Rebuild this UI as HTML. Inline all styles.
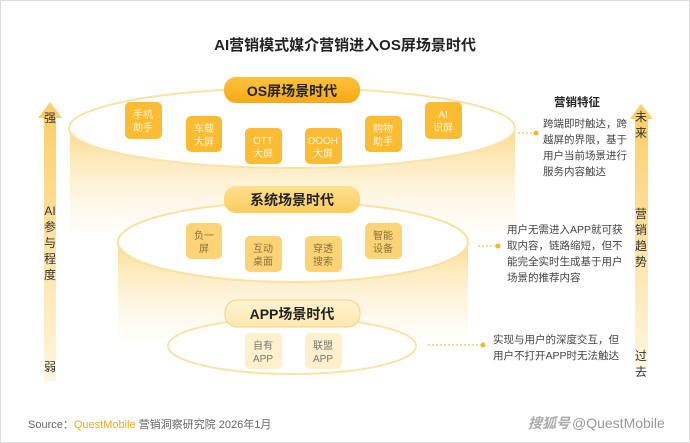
<!DOCTYPE html>
<html><head><meta charset="utf-8"><style>
html,body{margin:0;padding:0;background:#fff;}
svg{display:block;}
text{font-family:"Liberation Sans","Noto Sans CJK SC",sans-serif;}
</style></head><body>
<svg width="690" height="443" viewBox="0 0 690 443" xmlns="http://www.w3.org/2000/svg">
<defs>
<linearGradient id="body1" x1="0" y1="0" x2="0" y2="1"><stop offset="0" stop-color="#fbd98a"/><stop offset="1" stop-color="#fff8e8" stop-opacity="0.3"/></linearGradient>
<linearGradient id="body2" x1="0" y1="0" x2="0" y2="1"><stop offset="0" stop-color="#fcdc8e"/><stop offset="1" stop-color="#fffaf0" stop-opacity="0.3"/></linearGradient>
<linearGradient id="arr" x1="0" y1="0" x2="0" y2="1"><stop offset="0" stop-color="#fbcf6a"/><stop offset="1" stop-color="#fff6e0"/></linearGradient>
<linearGradient id="pill" x1="0" y1="0" x2="0" y2="1"><stop offset="0" stop-color="#fdc23a"/><stop offset="1" stop-color="#f5a915"/></linearGradient>
<linearGradient id="pill2" x1="0" y1="0" x2="0" y2="1"><stop offset="0" stop-color="#ffe08e"/><stop offset="1" stop-color="#f9cd5c"/></linearGradient>
<linearGradient id="pill3" x1="0" y1="0" x2="0" y2="1"><stop offset="0" stop-color="#fff3d0"/><stop offset="1" stop-color="#fde7b0"/></linearGradient>
</defs>
<rect x="0.5" y="0.5" width="689" height="442" fill="#fff" stroke="#ddd"/>
<text x="345" y="50" font-size="15" font-weight="bold" text-anchor="middle" fill="#222">AI营销模式媒介营销进入OS屏场景时代</text>

<rect x="44" y="116" width="12" height="265" fill="url(#arr)"/>
<polygon points="38,118 50,102 62,118" fill="#fbcf6a"/>
<g font-size="12" text-anchor="middle" fill="#333">
<text x="50" y="122">强</text>
<text x="50" y="215">AI</text>
<text x="50" y="231">参</text>
<text x="50" y="247">与</text>
<text x="50" y="263">程</text>
<text x="50" y="279">度</text>
<text x="50" y="371">弱</text>
</g>

<rect x="635" y="118" width="13" height="250" fill="url(#arr)"/>
<polygon points="630,119 641,104 653,119" fill="#fbcf6a"/>
<g font-size="12" text-anchor="middle" fill="#333">
<text x="641" y="121">未</text>
<text x="641" y="137">来</text>
<text x="641" y="218">营</text>
<text x="641" y="234">销</text>
<text x="641" y="250">趋</text>
<text x="641" y="266">势</text>
<text x="641" y="360">过</text>
<text x="641" y="376">去</text>
</g>

<path d="M70,128 L70,230 L515,230 L515,128 Z" fill="url(#body1)"/>
<ellipse cx="292" cy="128" rx="223" ry="40" fill="#fff" stroke="#fbe2a6" stroke-width="2"/>
<path d="M118,242 L118,340 L468,340 L468,242 Z" fill="url(#body2)"/>
<ellipse cx="293" cy="242" rx="175" ry="40" fill="#fff" stroke="#fbe0a0" stroke-width="2"/>
<ellipse cx="292" cy="346" rx="124" ry="28" fill="#fff" stroke="#fbe2a6" stroke-width="2"/>

<rect x="224" y="77" width="136" height="26" rx="12" fill="url(#pill)"/>
<text x="292" y="96" font-size="14" text-anchor="middle" fill="#222" font-weight="bold">OS屏场景时代</text>
<rect x="224" y="186" width="136" height="27" rx="12" fill="url(#pill2)"/>
<text x="292" y="205" font-size="14" text-anchor="middle" fill="#222" font-weight="bold">系统场景时代</text>
<rect x="225" y="300" width="135" height="27" rx="12" fill="url(#pill3)" stroke="#f6d27a"/>
<text x="292" y="319" font-size="14" text-anchor="middle" fill="#222" font-weight="bold">APP场景时代</text>

<g font-size="10" text-anchor="middle" fill="#fff4dc">
<rect x="125" y="102" width="37" height="37" rx="5" fill="#fbbc32"/><text x="143" y="118">手机</text><text x="143" y="131">助手</text>
<rect x="186" y="116" width="36" height="36" rx="5" fill="#fbbc32"/><text x="204" y="132">车载</text><text x="204" y="145">大屏</text>
<rect x="245" y="128" width="37" height="36" rx="5" fill="#fbbc32"/><text x="263" y="144">OTT</text><text x="263" y="157">大屏</text>
<rect x="305" y="128" width="37" height="36" rx="5" fill="#fbbc32"/><text x="323" y="144">DOOH</text><text x="323" y="157">大屏</text>
<rect x="365" y="116" width="37" height="36" rx="5" fill="#fbbc32"/><text x="383" y="132">购物</text><text x="383" y="145">助手</text>
<rect x="425" y="102" width="37" height="37" rx="5" fill="#fbbc32"/><text x="443" y="118">AI</text><text x="443" y="131">识屏</text>
</g>
<g font-size="10" text-anchor="middle" fill="#8a7040">
<rect x="186" y="223" width="36" height="36" rx="5" fill="#fcd375"/><text x="204" y="239">负一</text><text x="204" y="252">屏</text>
<rect x="245" y="236" width="37" height="36" rx="5" fill="#fcd375"/><text x="263" y="252">互动</text><text x="263" y="265">桌面</text>
<rect x="305" y="236" width="37" height="36" rx="5" fill="#fcd375"/><text x="323" y="252">穿透</text><text x="323" y="265">搜索</text>
<rect x="365" y="223" width="37" height="36" rx="5" fill="#fcd375"/><text x="383" y="239">智能</text><text x="383" y="252">设备</text>
</g>
<g font-size="10" text-anchor="middle" fill="#777">
<rect x="245" y="333" width="37" height="36" rx="5" fill="#fef0cc"/><text x="263" y="349">自有</text><text x="263" y="362">APP</text>
<rect x="305" y="333" width="37" height="36" rx="5" fill="#fef0cc"/><text x="323" y="349">联盟</text><text x="323" y="362">APP</text>
</g>

<text x="577" y="106" font-size="11.5" font-weight="bold" text-anchor="middle" fill="#222">营销特征</text>
<line x1="518" y1="133" x2="534" y2="133" stroke="#f5b731" stroke-dasharray="2,2"/><circle cx="536" cy="133" r="2.5" fill="#f5b731"/>
<g font-size="10.5" fill="#444">
<text x="543" y="127">跨端即时触达，跨</text>
<text x="543" y="143">越屏的界限，基于</text>
<text x="543" y="159">用户当前场景进行</text>
<text x="543" y="175">服务内容触达</text>
<text x="507" y="233">用户无需进入APP就可获</text>
<text x="507" y="249">取内容，链路缩短，但不</text>
<text x="507" y="265">能完全实时生成基于用户</text>
<text x="507" y="281">场景的推荐内容</text>
<text x="493" y="343">实现与用户的深度交互，但</text>
<text x="493" y="359">用户不打开APP时无法触达</text>
</g>
<line x1="478" y1="246" x2="496" y2="246" stroke="#f5b731" stroke-dasharray="2,2"/><circle cx="498" cy="246" r="2.5" fill="#f5b731"/>
<line x1="428" y1="345" x2="481" y2="345" stroke="#f5b731" stroke-dasharray="2,2"/><circle cx="483" cy="345" r="2.5" fill="#f5b731"/>

<text x="28" y="428" font-size="11" fill="#666">Source：<tspan fill="#f5a915">QuestMobile</tspan> 营销洞察研究院 2026年1月</text>
<text x="528" y="428" font-size="14" fill="#aaa" font-style="italic" font-weight="bold">搜狐号</text>
<text x="572" y="428" font-size="14" fill="#999">@QuestMobile</text>
</svg>
</body></html>
